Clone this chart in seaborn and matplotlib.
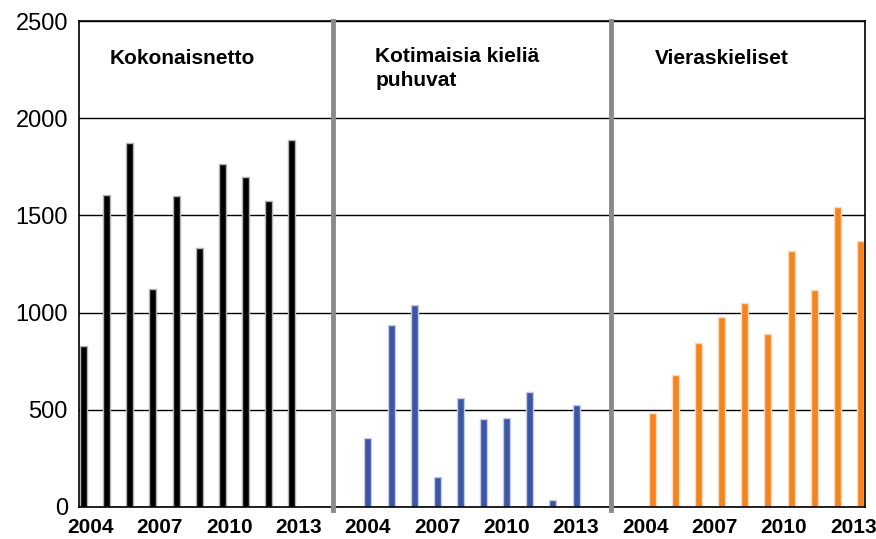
import numpy as np
import pandas as pd
import matplotlib
matplotlib.use("Agg")
import matplotlib.pyplot as plt
import matplotlib.colors as mcolors
import seaborn as sns

# ==========================================
# DATA
# ==========================================
years = [2004, 2005, 2006, 2007, 2008, 2009, 2010, 2011, 2012, 2013]
tick_years = [2004, 2007, 2010, 2013]

kokonaisnetto = [828, 1605, 1874, 1120, 1600, 1332, 1766, 1699, 1576, 1888]
kotimaisia = [355, 935, 1039, 153, 559, 453, 456, 593, 38, 526]
vieraskieliset = [482, 679, 842, 977, 1049, 888, 1318, 1114, 1545, 1368]

group_titles = ["Kokonaisnetto", "Kotimaisia kieliä\npuhuvat", "Vieraskieliset"]
series_names = ["Kokonaisnetto", "Kotimaisia kieliä puhuvat", "Vieraskieliset"]
colors = ["#000000", "#3d55a5", "#f5841f"]

# ==========================================
# BUILD LONG TABLE: 3 blocks of 10 years, 2 empty slots between blocks
# ==========================================
GAP = 2
order = []
rows = []
for g, (name, vals) in enumerate(zip(series_names, [kokonaisnetto, kotimaisia, vieraskieliset])):
    for y, v in zip(years, vals):
        cat = f"{g}_{y}"
        order.append(cat)
        rows.append({"cat": cat, "series": name, "value": v})
    if g < 2:
        for k in range(GAP):
            order.append(f"gap{g}_{k}")
df = pd.DataFrame(rows)

# ==========================================
# PLOT
# ==========================================
fig = plt.figure(figsize=(8.76, 5.39), dpi=100)
ax = fig.add_axes([0.0902, 0.0594, 0.8972, 0.9016])

sns.barplot(data=df, x="cat", y="value", hue="series", order=order,
            hue_order=series_names, palette=colors, width=0.91,
            dodge=True, legend=False, ax=ax, errorbar=None, saturation=1)

# lighter outline around each bar
for bar in ax.patches:
    fc = np.array(mcolors.to_rgb(bar.get_facecolor()))
    light = fc + (1 - fc) * 0.7
    bar.set_edgecolor(light)
    bar.set_linewidth(1.0)

ax.set_xlim(-0.5, len(order) - 0.5)
ax.set_ylim(0, 2500)
ax.set_yticks([0, 500, 1000, 1500, 2000, 2500])
ax.tick_params(axis="y", labelsize=17, length=0, pad=8)
ax.tick_params(axis="x", length=0, pad=8)

# year tick labels below each block
tick_pos, tick_lab = [], []
for g in range(3):
    for ty in tick_years:
        tick_pos.append(order.index(f"{g}_{ty}"))
        tick_lab.append(str(ty))
ax.set_xticks(tick_pos)
ax.set_xticklabels(tick_lab, fontsize=15, fontweight="bold")

ax.set_xlabel("")
ax.set_ylabel("")
ax.set_axisbelow(True)
ax.yaxis.grid(True, color="black", linewidth=1)
ax.xaxis.grid(False)
for s in ax.spines.values():
    s.set_color("black")
    s.set_linewidth(1.2)

# grey separators between blocks
for g in range(2):
    xsep = order.index(f"gap{g}_0") + 0.5
    ax.plot([xsep, xsep], [-15, 2500], color="#8a8a8a", linewidth=3.5,
            clip_on=False, zorder=3)

# block titles
title_x = [0.84, 12.31, 24.43]
title_y = [2355, 2365, 2355]
for tx, ty, t in zip(title_x, title_y, group_titles):
    ax.text(tx, ty, t, fontsize=15, fontweight="bold",
            va="top", ha="left", linespacing=1.3)

for lab in ax.get_yticklabels() + ax.get_xticklabels():
    lab.set_family("Liberation Sans")
for t in ax.texts:
    t.set_family("Liberation Sans")

fig.savefig("out.png", dpi=100)
